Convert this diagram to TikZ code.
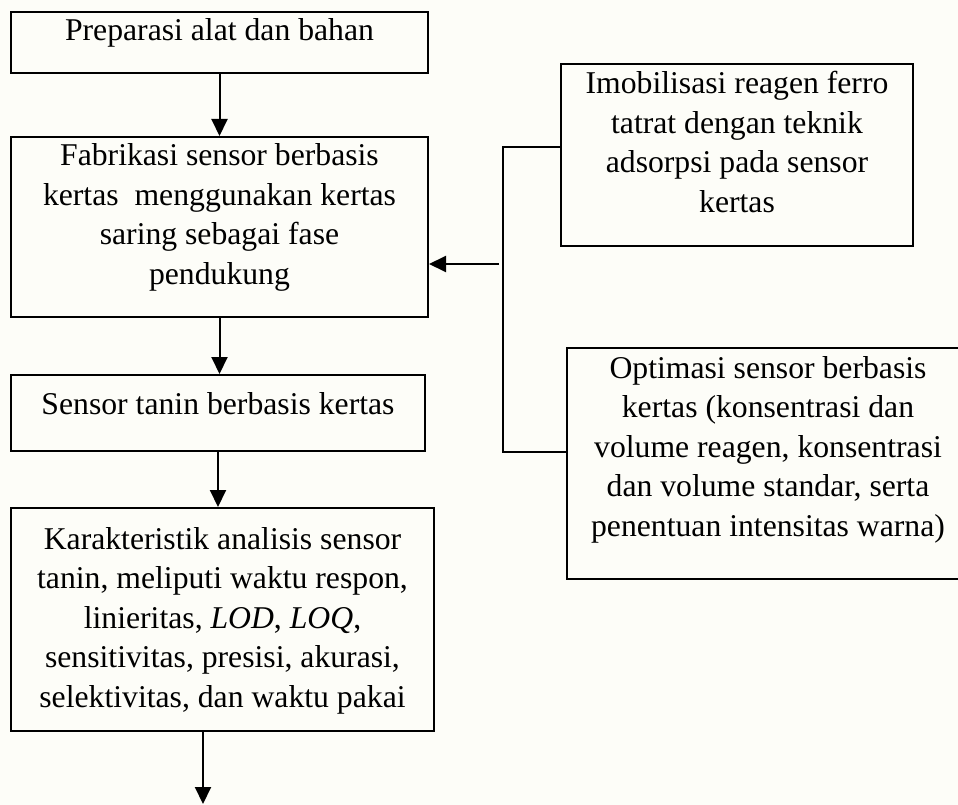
\documentclass[tikz,border=0pt]{standalone}
\usepackage{fontspec}
\setmainfont{Liberation Serif}
\definecolor{papercream}{HTML}{FDFDF8}
\usetikzlibrary{positioning, arrows.meta}
\tikzset{
	flownode/.style={
			shape=rectangle,
			draw=black,
			line width=2pt,
			inner sep=0pt
		}
}
\tikzset{
	flowtext/.style={
			align=center,
			inner sep=0pt,
			font=\fontsize{31.7}{39.5}\selectfont
		},
	linkarrow/.style={
			-{Triangle[width=16pt, length=17pt]},
			line width=2pt
		},
	bracketline/.style={
			line width=1.6pt
		}
}

\begin{document}
\begin{tikzpicture}[x=1pt, y=1pt]
				\fill[papercream] (0,0) rectangle (958,-805);
				\useasboundingbox (0,0) rectangle (958,-805);

				% main column
				\node[flownode, minimum width=417pt, minimum height=61pt]  (b1) at (219.5,-42.5) {};
				\node[flownode, minimum width=417pt, minimum height=180pt] (b2) at (219.5,-227) {};
				\node[flownode, minimum width=414pt, minimum height=76pt]  (b3) at (218,-413) {};
				\node[flownode, minimum width=423pt, minimum height=223pt] (b4) at (222.5,-619.5) {};

				% side boxes
				\node[flownode, minimum width=352pt, minimum height=182pt] (b5) at (737,-155) {};
				\node[flownode, minimum width=402pt, minimum height=231pt] (b6) at (768,-463.5) {};

				\node[flowtext, below=7.7pt of b1.north] (t1) {Preparasi alat dan bahan};
				\node[flowtext, below=7.7pt of b2.north] (t2) {Fabrikasi sensor berbasis\\kertas \ menggunakan kertas\\saring sebagai fase\\pendukung};
				\node[flowtext, below=18pt of b3.north]  (t3) {Sensor tanin berbasis kertas};
				\node[flowtext, below=20pt of b4.north]  (t4) {Karakteristik analisis sensor\\tanin, meliputi waktu respon,\\linieritas, \textit{LOD}, \textit{LOQ},\\sensitivitas, presisi, akurasi,\\selektivitas, dan waktu pakai};
				\node[flowtext, below=8pt of b5.north]   (t5) {Imobilisasi reagen ferro\\tatrat dengan teknik\\adsorpsi pada sensor\\kertas};
				\node[flowtext, below=9pt of b6.north]   (t6) {Optimasi sensor berbasis\\kertas (konsentrasi dan\\volume reagen, konsentrasi\\dan volume standar, serta\\penentuan intensitas warna)};

				\coordinate (jt) at (503,-147);
				\coordinate (jb) at (503,-452);
				\coordinate (jm) at (499,-264);
				\coordinate (fin) at (203,-804);

				\draw[linkarrow] (b1.south) -- (b1.south |- b2.north);
				\draw[linkarrow] (b2.south) -- (b2.south |- b3.north);
				\draw[linkarrow] (b3.south) -- (b3.south |- b4.north);
				\draw[linkarrow] (b4.south -| fin) -- (fin);

				\draw[bracketline] (jt -| b5.west) -- (jt) -- (jb) -- (jb -| b6.west);
				\draw[linkarrow] (jm) -- (jm -| b2.east);

			\end{tikzpicture}
\end{document}
